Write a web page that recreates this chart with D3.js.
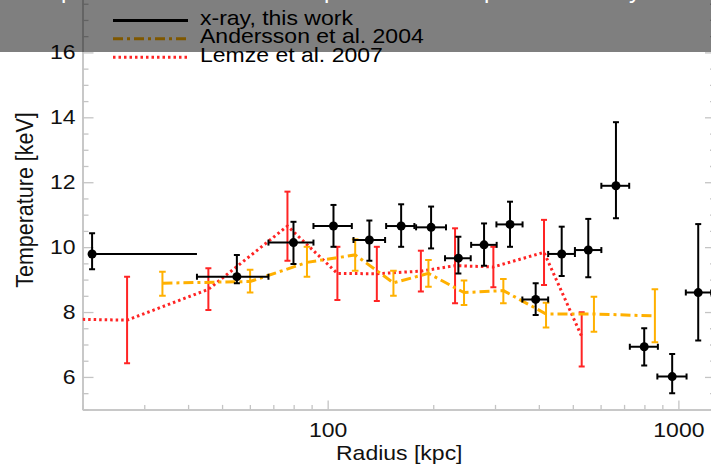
<!DOCTYPE html>
<html>
<head>
<meta charset="utf-8">
<script src="https://cdn.jsdelivr.net/npm/d3@7"></script>
<style>
  html, body { margin: 0; padding: 0; background: #fff; }
  svg { display: block; }
</style>
</head>
<body>
<div id="chart"></div>
<script>
// ---- Data: temperature profile (keV) versus radius (kpc) ----

// X-ray, this work: annular bins with radial extent and temperature errors
const xrayR    = [21.3, 55.1, 79.9, 103.9, 131.5, 162.0, 197.2, 235.9, 279.2, 331.1, 391.8, 464.8, 553.4, 663.7, 799, 960, 1139];
const xrayRLo  = [21.3, 42.4, 67.8, 91.1, 118.5, 146.8, 178.7, 216.1, 256.5, 302.8, 359.0, 425.3, 507, 603, 727, 871, 1050];
const xrayRHi  = [42.4, 67.8, 91.1, 117.2, 145.8, 176.7, 217.5, 255.8, 303.3, 359.5, 425.3, 507, 603, 724, 874, 1055, 1240];
const xrayT    = [9.79, 9.09, 10.14, 10.65, 10.22, 10.65, 10.61, 9.66, 10.07, 10.70, 8.39, 9.79, 9.91, 11.89, 6.93, 6.01, 8.60];
const xrayTLo  = [9.32, 8.89, 9.48, 10.01, 9.58, 10.01, 9.96, 9.19, 9.43, 10.01, 7.91, 9.11, 9.07, 10.89, 6.35, 5.50, 7.12];
const xrayTHi  = [10.43, 9.76, 10.78, 11.30, 10.82, 11.32, 11.25, 10.32, 10.73, 11.40, 8.89, 10.63, 10.87, 13.85, 7.50, 6.71, 10.71];

// Andersson et al. 2004
const andR   = [33.8, 60.1, 87.3, 119.8, 154.0, 193.8, 244.8, 316.9, 419.4, 574.4, 857];
const andT   = [8.89, 8.94, 9.53, 9.76, 8.90, 9.19, 8.60, 8.66, 7.94, 7.94, 7.88];
const andTLo = [8.50, 8.60, 9.09, 9.27, 8.50, 8.78, 8.22, 8.27, 7.52, 7.39, 7.07];
const andTHi = [9.24, 9.30, 10.01, 10.24, 9.27, 9.60, 8.97, 9.02, 8.29, 8.47, 8.70];

// Lemze et al. 2007
const lemR   = [15, 26.8, 45.7, 76.8, 106.6, 138.1, 184.4, 230.8, 296.8, 413.9, 530];
const lemT   = [7.80, 7.75, 8.70, 10.65, 9.19, 9.18, 9.26, 9.43, 9.39, 9.84, 7.25];
const lemTLo = [6.50, 6.42, 8.06, 9.58, 8.37, 8.34, 8.63, 8.27, 8.76, 8.83, 6.32];
const lemTHi = [9.10, 9.09, 9.35, 11.71, 10.01, 10.01, 9.89, 10.58, 10.01, 10.84, 7.99];

// Axis ticks
const xMajorTicks = [100, 1000];
const xMinorTicks = [20, 30, 40, 50, 60, 70, 80, 90, 200, 300, 400, 500, 600, 700, 800, 900];
const yMajorTicks = [6, 8, 10, 12, 14, 16, 18];
const yLabelledTicks = [6, 8, 10, 12, 14, 16];
const yMinorTicks = d3.range(5, 18.01, 0.5).filter(v => v % 2 !== 0);

// Legend entries
const legendLabels = ["x-ray, this work", "Andersson et al. 2004", "Lemze et al. 2007"];

// ---- Layout ----
const W = 711, H = 468;
const FONT = "'Liberation Sans', Arial, Helvetica, sans-serif";
const STRETCH = 1.15;           // horizontal stretch applied to text
const AXIS_COLOR = "#c4c4c4";
const ORANGE = "#ffb000";
const RED = "#ff2424";

const x = d3.scaleLog().domain([20, 1280]).range([82.5, 716]);
const y = d3.scaleLinear().domain([5, 18]).range([409.4, -12.5]);

const svg = d3.select("#chart").append("svg")
  .attr("width", W).attr("height", H)
  .attr("viewBox", `0 0 ${W} ${H}`);

svg.append("defs").append("clipPath").attr("id", "plotClip")
  .append("rect")
  .attr("x", x.range()[0]).attr("y", y.range()[1])
  .attr("width", x.range()[1] - x.range()[0])
  .attr("height", y.range()[0] - y.range()[1]);

// ---- Axes (ticks pointing inward) ----
function styleAxis(g) {
  g.select(".domain").attr("stroke", AXIS_COLOR).attr("stroke-width", 1.5);
  g.selectAll(".tick line").attr("stroke", AXIS_COLOR).attr("stroke-width", 1.3);
  g.selectAll(".tick text")
    .attr("fill", "#111")
    .style("font-family", FONT)
    .style("font-size", "20px")
    .attr("transform", `scale(${STRETCH},1)`);
}

const fmtInt = d3.format("d");
const fmtY = v => (yLabelledTicks.includes(v) ? fmtInt(v) : "");

// bottom
svg.append("g").attr("transform", `translate(0,${y(5)})`)
  .call(d3.axisBottom(x).tickValues(xMinorTicks).tickSizeInner(-4.5).tickSizeOuter(0).tickFormat(""))
  .call(styleAxis);
svg.append("g").attr("transform", `translate(0,${y(5)})`)
  .call(d3.axisBottom(x).tickValues(xMajorTicks).tickSizeInner(-9).tickSizeOuter(0).tickPadding(13.5).tickFormat(fmtInt))
  .call(styleAxis);
// top
svg.append("g").attr("transform", `translate(0,${y(18)})`)
  .call(d3.axisTop(x).tickValues(xMinorTicks).tickSizeInner(-4.5).tickSizeOuter(0).tickFormat(""))
  .call(styleAxis);
svg.append("g").attr("transform", `translate(0,${y(18)})`)
  .call(d3.axisTop(x).tickValues(xMajorTicks).tickSizeInner(-9).tickSizeOuter(0).tickFormat(""))
  .call(styleAxis);
// left
svg.append("g").attr("transform", `translate(${x(20)},0)`)
  .call(d3.axisLeft(y).tickValues(yMinorTicks).tickSizeInner(-6).tickSizeOuter(0).tickFormat(""))
  .call(styleAxis);
svg.append("g").attr("transform", `translate(${x(20)},0)`)
  .call(d3.axisLeft(y).tickValues(yMajorTicks).tickSizeInner(-11).tickSizeOuter(0).tickPadding(6).tickFormat(fmtY))
  .call(styleAxis);
// right
svg.append("g").attr("transform", `translate(${x(1280)},0)`)
  .call(d3.axisRight(y).tickValues(yMinorTicks).tickSizeInner(-6).tickSizeOuter(0).tickFormat(""))
  .call(styleAxis);
svg.append("g").attr("transform", `translate(${x(1280)},0)`)
  .call(d3.axisRight(y).tickValues(yMajorTicks).tickSizeInner(-11).tickSizeOuter(0).tickFormat(""))
  .call(styleAxis);

// axis titles
svg.append("text")
  .attr("transform", `translate(${(x.range()[0] + x.range()[1]) / 2},459.5) scale(${STRETCH},1)`)
  .attr("text-anchor", "middle")
  .style("font-family", FONT).style("font-size", "20px").attr("fill", "#111")
  .text("Radius [kpc]");

svg.append("text")
  .attr("transform", `translate(33,200) scale(${STRETCH},1) rotate(-90)`)
  .attr("text-anchor", "middle")
  .style("font-family", FONT).style("font-size", "21.5px").attr("fill", "#111")
  .text("Temperature [keV]");

// ---- Data layer ----
const plot = svg.append("g").attr("clip-path", "url(#plotClip)");

function vErrorBars(g, rs, lo, hi, color, capHalf, width) {
  rs.forEach((r, i) => {
    const cx = x(r);
    g.append("line").attr("x1", cx).attr("x2", cx).attr("y1", y(lo[i])).attr("y2", y(hi[i]))
      .attr("stroke", color).attr("stroke-width", width);
    [lo[i], hi[i]].forEach(v => {
      g.append("line").attr("x1", cx - capHalf).attr("x2", cx + capHalf)
        .attr("y1", y(v)).attr("y2", y(v))
        .attr("stroke", color).attr("stroke-width", width);
    });
  });
}

// Lemze et al. 2007: dotted line with error bars
plot.append("path")
  .attr("d", d3.line().x((d, i) => x(lemR[i])).y(d => y(d))(lemT))
  .attr("fill", "none").attr("stroke", RED).attr("stroke-width", 3)
  .attr("stroke-dasharray", "2.5 3");
vErrorBars(plot.append("g"), lemR, lemTLo, lemTHi, RED, 3, 2);

// Andersson et al. 2004: dash-dot line with error bars
plot.append("path")
  .attr("d", d3.line().x((d, i) => x(andR[i])).y(d => y(d))(andT))
  .attr("fill", "none").attr("stroke", ORANGE).attr("stroke-width", 3)
  .attr("stroke-dasharray", "10 4 3 4");
vErrorBars(plot.append("g"), andR, andTLo, andTHi, ORANGE, 3.3, 2);

// X-ray, this work: points with radial and temperature error bars
const gx = plot.append("g");
vErrorBars(gx, xrayR, xrayTLo, xrayTHi, "#000", 3, 2);
xrayR.forEach((r, i) => {
  const cy = y(xrayT[i]);
  gx.append("line").attr("x1", x(xrayRLo[i])).attr("x2", x(xrayRHi[i]))
    .attr("y1", cy).attr("y2", cy).attr("stroke", "#000").attr("stroke-width", 2);
  // bins open on the inner side are drawn without end caps
  if (xrayRLo[i] < r) {
    [xrayRLo[i], xrayRHi[i]].forEach(v => {
      gx.append("line").attr("x1", x(v)).attr("x2", x(v))
        .attr("y1", cy - 3).attr("y2", cy + 3)
        .attr("stroke", "#000").attr("stroke-width", 2);
    });
  }
  gx.append("circle").attr("cx", x(r)).attr("cy", cy).attr("r", 4.5).attr("fill", "#000");
});

// ---- Legend ----
const legend = svg.append("g");
const legendStyles = [
  { color: "#000", dash: null },
  { color: ORANGE, dash: "10 4 3 4" },
  { color: RED, dash: "2.5 3" }
];
legendLabels.forEach((label, i) => {
  const base = 25 + i * 18.35;
  legend.append("line")
    .attr("x1", 113).attr("x2", 188).attr("y1", base - 4.5).attr("y2", base - 4.5)
    .attr("stroke", legendStyles[i].color).attr("stroke-width", 3)
    .attr("stroke-dasharray", legendStyles[i].dash);
  legend.append("text")
    .attr("transform", `translate(200,${base}) scale(${STRETCH},1)`)
    .style("font-family", FONT).style("font-size", "20px").attr("fill", "#000")
    .text(label);
});

// ---- Caption bar across the top ----
svg.append("rect")
  .attr("x", 0).attr("y", 0).attr("width", W).attr("height", 52)
  .attr("fill", "#000").attr("opacity", 0.5);

const title = svg.append("text")
  .attr("y", -2)
  .style("font-family", FONT).style("font-size", "24px").attr("fill", "#fff");
[["Tem", 61, "end"], ["perature and abundance", 61, "start"], ["profile com", 324, "start"],
 ["pared to X-ra", 484, "start"], ["y results", 629, "start"]].forEach(([t, px, anchor]) => {
  title.append("tspan").attr("x", px).attr("text-anchor", anchor).text(t);
});
</script>
</body>
</html>
